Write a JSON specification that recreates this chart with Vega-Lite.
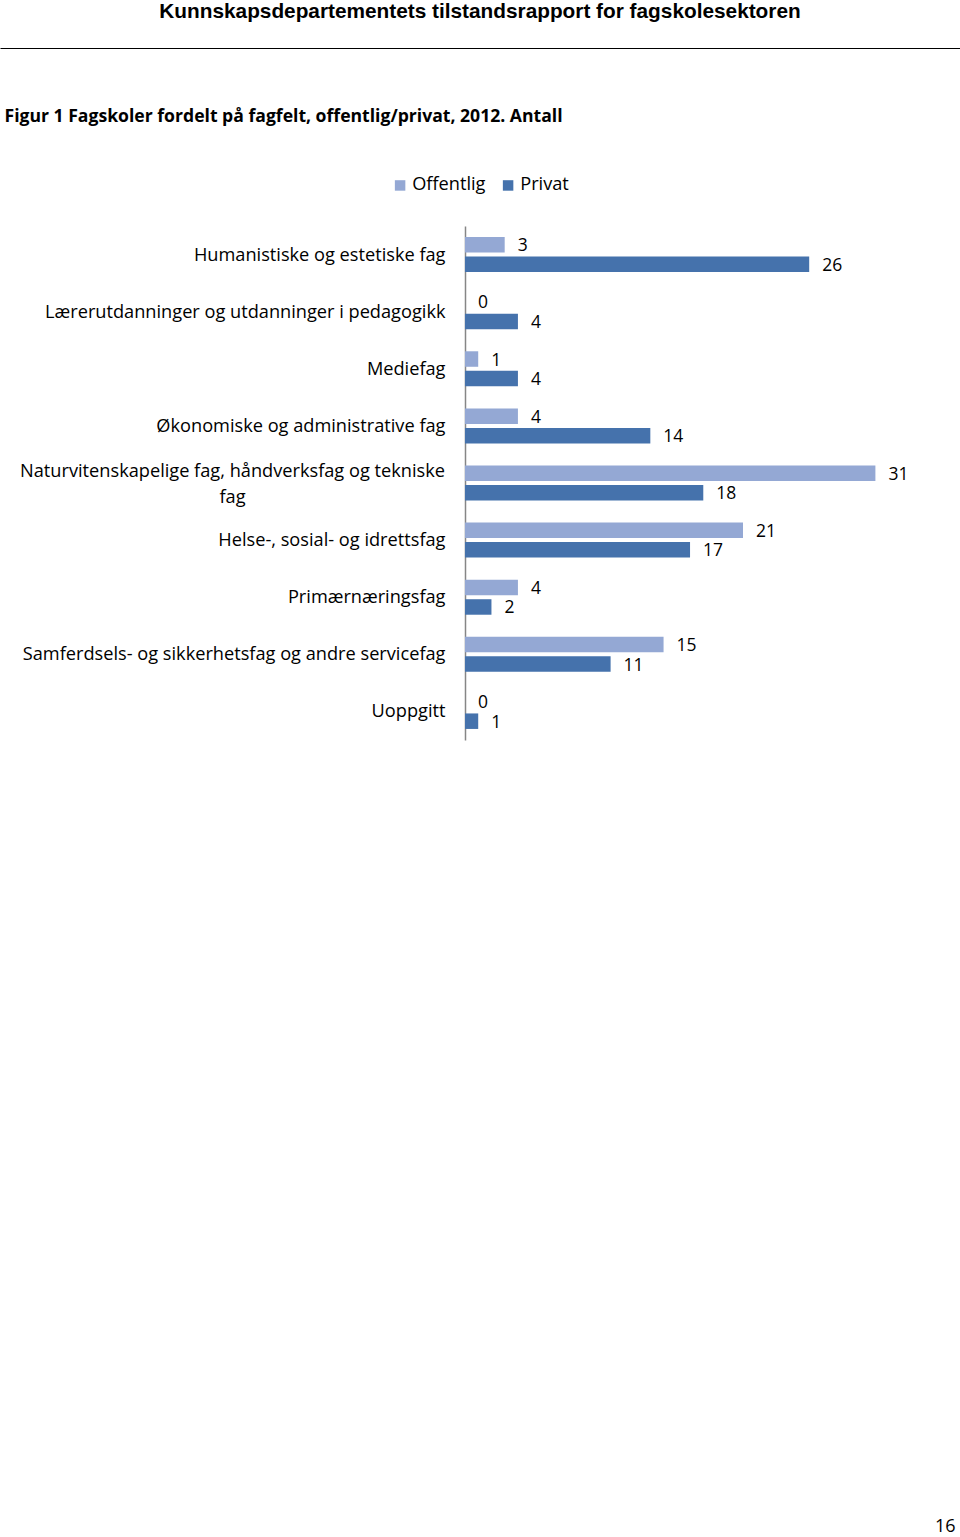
{
  "$schema": "https://vega.github.io/schema/vega-lite/v6.json",
  "background": "white",
  "autosize": {"type": "none"},
  "width": 960,
  "height": 514,
  "padding": {"left": 0, "top": 226, "right": 0, "bottom": 797},
  "config": {"view": {"stroke": null}, "font": "Open Sans"},
  "title": {"text": "Kunnskapsdepartementets tilstandsrapport for fagskolesektoren", "font": "Liberation Sans", "fontSize": 20.8, "fontWeight": "bold", "color": "black", "anchor": "middle", "frame": "group", "offset": 25},
  "data": {"values": [
    {"kategori": "Humanistiske og estetiske fag", "serie": "Offentlig", "antall": 3},
    {"kategori": "Humanistiske og estetiske fag", "serie": "Privat", "antall": 26},
    {"kategori": "Lærerutdanninger og utdanninger i pedagogikk", "serie": "Offentlig", "antall": 0},
    {"kategori": "Lærerutdanninger og utdanninger i pedagogikk", "serie": "Privat", "antall": 4},
    {"kategori": "Mediefag", "serie": "Offentlig", "antall": 1},
    {"kategori": "Mediefag", "serie": "Privat", "antall": 4},
    {"kategori": "Økonomiske og administrative fag", "serie": "Offentlig", "antall": 4},
    {"kategori": "Økonomiske og administrative fag", "serie": "Privat", "antall": 14},
    {"kategori": "Naturvitenskapelige fag, håndverksfag og tekniske fag", "serie": "Offentlig", "antall": 31},
    {"kategori": "Naturvitenskapelige fag, håndverksfag og tekniske fag", "serie": "Privat", "antall": 18},
    {"kategori": "Helse-, sosial- og idrettsfag", "serie": "Offentlig", "antall": 21},
    {"kategori": "Helse-, sosial- og idrettsfag", "serie": "Privat", "antall": 17},
    {"kategori": "Primærnæringsfag", "serie": "Offentlig", "antall": 4},
    {"kategori": "Primærnæringsfag", "serie": "Privat", "antall": 2},
    {"kategori": "Samferdsels- og sikkerhetsfag og andre servicefag", "serie": "Offentlig", "antall": 15},
    {"kategori": "Samferdsels- og sikkerhetsfag og andre servicefag", "serie": "Privat", "antall": 11},
    {"kategori": "Uoppgitt", "serie": "Offentlig", "antall": 0},
    {"kategori": "Uoppgitt", "serie": "Privat", "antall": 1}
  ]},
  "encoding": {
    "y": {
      "field": "kategori", "type": "nominal", "sort": null,
      "scale": {"paddingInner": 0, "paddingOuter": 0},
      "axis": {
        "offset": -465,
        "ticks": false, "tickSize": 0, "labelPadding": 20,
        "domainColor": "#868686", "domainWidth": 1.5,
        "labelFont": "Open Sans", "labelFontSize": 18.2, "labelColor": "black", "labelLimit": 0, "labelLineHeight": 26,
        "labelExpr": "datum.label == 'Naturvitenskapelige fag, håndverksfag og tekniske fag' ? ['Naturvitenskapelige fag, håndverksfag og tekniske', 'fag'] : datum.label",
        "encoding": {"labels": {
          "align": {"condition": {"test": "datum.value == 'Naturvitenskapelige fag, håndverksfag og tekniske fag'", "value": "center"}, "value": "right"},
          "dx": {"condition": {"test": "datum.value == 'Naturvitenskapelige fag, håndverksfag og tekniske fag'", "value": -213}, "value": 0},
          "dy": {"condition": {"test": "datum.value == 'Naturvitenskapelige fag, håndverksfag og tekniske fag'", "value": -11}, "value": 1}
        }},
        "title": "16",
        "titleAngle": 0, "titleX": 490, "titleY": 1305, "titleAlign": "right", "titleBaseline": "alphabetic",
        "titleFont": "Open Sans", "titleFontSize": 18, "titleFontWeight": "normal", "titleColor": "black"
      }
    },
    "yOffset": {"field": "serie", "type": "nominal", "sort": ["Offentlig", "Privat"], "scale": {"paddingInner": 0.205, "paddingOuter": 0.567}},
    "x": {
      "field": "antall", "type": "quantitative",
      "scale": {"domain": [-35.12, 37.39], "nice": false, "zero": false},
      "axis": {
        "orient": "top", "offset": 178, "grid": false, "ticks": false, "labels": false,
        "domain": true, "domainColor": "black", "domainWidth": 1,
        "title": "Figur 1 Fagskoler fordelt på fagfelt, offentlig/privat, 2012. Antall",
        "titleX": 4, "titleY": 73, "titleAlign": "left", "titleAnchor": "start", "titleBaseline": "alphabetic",
        "titleFont": "Open Sans", "titleFontSize": 17.6, "titleFontWeight": "bold", "titleColor": "black"
      }
    }
  },
  "layer": [
    {
      "mark": {"type": "bar"},
      "encoding": {
        "color": {
          "field": "serie", "type": "nominal", "sort": ["Offentlig", "Privat"],
          "scale": {"range": ["#94A8D4", "#4572AC"]},
          "legend": {"title": null, "orient": "none", "legendX": 391, "legendY": -50, "direction": "horizontal", "symbolType": "square", "symbolSize": 110, "symbolStrokeWidth": 0, "labelFont": "Open Sans", "labelFontSize": 18.2, "labelColor": "black", "columnPadding": 13, "labelOffset": 3, "padding": 0}
        }
      }
    },
    {
      "mark": {"type": "text", "align": "left", "baseline": "middle", "dx": 13, "dy": 1.5, "font": "Open Sans", "fontSize": 17.5, "color": "black"},
      "encoding": {"text": {"field": "antall", "type": "quantitative"}}
    }
  ]
}
